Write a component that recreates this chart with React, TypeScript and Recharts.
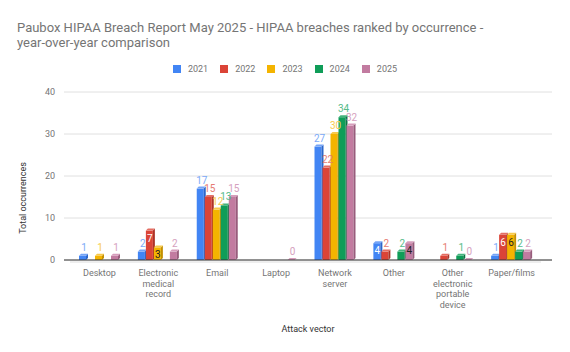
import { BarChart, Bar, XAxis, YAxis, CartesianGrid, LabelList, Label, ReferenceArea } from "recharts";

document.body.style.margin = "0";

const categories = [
  "Desktop",
  "Electronic medical record",
  "Email",
  "Laptop",
  "Network server",
  "Other",
  "Other electronic portable device",
  "Paper/films",
];

const tickLines = [
  ["Desktop"],
  ["Electronic", "medical", "record"],
  ["Email"],
  ["Laptop"],
  ["Network", "server"],
  ["Other"],
  ["Other", "electronic", "portable", "device"],
  ["Paper/films"],
];

const years = ["2021", "2022", "2023", "2024", "2025"];

const values2021 = [1, 2, 17, null, 27, 4, null, 1];
const values2022 = [null, 7, 15, null, 22, 2, 1, 6];
const values2023 = [1, 3, 12, null, 30, null, null, 6];
const values2024 = [null, null, 13, null, 34, 2, 1, 2];
const values2025 = [1, 2, 15, 0, 32, 4, 0, 2];

const yTicks = [0, 10, 20, 30, 40];

const COLORS = ["#4285F4", "#DB4437", "#F4B400", "#0F9D58", "#C27BA0"];
const SIDE = ["#2C66C9", "#AD3327", "#C48F00", "#0A7542", "#985C7C"];
const TOP = ["#74A4F7", "#E46E63", "#F7C94A", "#45B37D", "#D69CBB"];
const LABEL = ["#7BAAF7", "#E67C73", "#F7CB4D", "#57BB8A", "#D5A1BE"];
// text colour when the label sits inside the bar
const INSIDE = ["#ffffff", "#ffffff", "#222222", "#ffffff", "#222222"];

const series = [values2021, values2022, values2023, values2024, values2025];

const data = categories.map((name, i) => {
  const row: Record<string, any> = { name };
  years.forEach((yr, s) => {
    row["y" + yr] = series[s][i];
  });
  return row;
});

const DEPTH = 2;

function make3dBar(s: number) {
  return (props: any) => {
    const { x, y, width, height } = props;
    if (x == null || y == null) return <g />;
    const fw = width - 1;
    const h = Math.max(height, 0);
    return (
      <g>
        <rect x={x} y={y} width={fw} height={h} fill={COLORS[s]} />
        <polygon
          points={`${x + fw},${y} ${x + fw + DEPTH},${y - DEPTH} ${x + fw + DEPTH},${y + h - DEPTH} ${x + fw},${y + h}`}
          fill={SIDE[s]}
        />
        <polygon
          points={`${x},${y} ${x + DEPTH},${y - DEPTH} ${x + fw + DEPTH},${y - DEPTH} ${x + fw},${y}`}
          fill={TOP[s]}
        />
      </g>
    );
  };
}

function makeLabel(s: number) {
  return (props: any) => {
    const { x, y, width, value } = props;
    if (value == null) return null;
    const cx = x + (width - 1) / 2 + 0.5;
    // single-digit bars tall enough get their label inside, like Sheets does
    if (value >= 3 && value <= 9) {
      return (
        <text x={cx} y={y + 11} textAnchor="middle" fontSize={10} fill={INSIDE[s]}>
          {value}
        </text>
      );
    }
    return (
      <text x={cx + 1} y={y - DEPTH - 3} textAnchor="middle" fontSize={10} fill={LABEL[s]}>
        {value}
      </text>
    );
  };
}

function CategoryTick(props: any) {
  const { x, y, index } = props;
  const lines = tickLines[index] || [];
  return (
    <text x={x} y={y} textAnchor="middle" fontSize={9} fill="#757575">
      {lines.map((l, i) => (
        <tspan key={i} x={x} dy={i === 0 ? 12 : 10.7}>
          {l}
        </tspan>
      ))}
    </text>
  );
}

export default function App() {
  return (
    <div
      style={{
        position: "relative",
        width: 570,
        height: 352,
        background: "#fff",
        fontFamily: "Roboto, sans-serif",
      }}
    >
      <div
        style={{
          position: "absolute",
          left: 17,
          top: 20,
          fontSize: 13,
          lineHeight: "15px",
          color: "#757575",
          whiteSpace: "nowrap",
        }}
      >
        <div>Paubox HIPAA Breach Report May 2025 - HIPAA breaches ranked by occurrence -</div>
        <div>year-over-year comparison</div>
      </div>
      <div
        style={{
          position: "absolute",
          left: 0,
          top: 64,
          width: 570,
          height: 10,
          display: "flex",
          justifyContent: "center",
          gap: 12,
          fontSize: 9,
          color: "#757575",
        }}
      >
        {years.map((yr, s) => (
          <div key={yr} style={{ display: "flex", alignItems: "center", height: 10 }}>
            <span
              style={{ width: 8, height: 8, background: COLORS[s], display: "inline-block", marginRight: 7 }}
            />
            <span>{yr}</span>
          </div>
        ))}
      </div>
      <BarChart
        width={570}
        height={352}
        data={data}
        margin={{ top: 92, right: 18, left: 0, bottom: 0 }}
        barGap={0}
        barSize={8}
        style={{ fontFamily: "Roboto, sans-serif" }}
      >
        <CartesianGrid vertical={false} stroke="#e0e0e0" />
        <ReferenceArea y1={-0.7} y2={0} ifOverflow="visible" fill="#eeeeee" fillOpacity={1} stroke="none" />
        <XAxis
          dataKey="name"
          height={92}
          padding={{ left: 6, right: 11 }}
          tickLine={false}
          tickSize={0}
          tickMargin={4}
          axisLine={{ stroke: "#333333" }}
          tick={<CategoryTick />}
          interval={0}
        >
          <Label value="Attack vector" position="insideBottom" offset={20} fontSize={9} fill="#333333" />
        </XAxis>
        <YAxis
          width={64}
          domain={[0, 40]}
          ticks={yTicks}
          tickLine={false}
          tickSize={0}
          tickMargin={9}
          axisLine={false}
          tick={{ fontSize: 9, fill: "#757575" }}
        >
          <Label
            content={() => (
              <text
                x={26}
                y={198}
                transform="rotate(-90 26 198)"
                textAnchor="middle"
                fontSize={9}
                fill="#333333"
              >
                Total occurrences
              </text>
            )}
          />
        </YAxis>
        {years.map((yr, s) => (
          <Bar
            key={yr}
            dataKey={"y" + yr}
            name={yr}
            fill={COLORS[s]}
            isAnimationActive={false}
            shape={make3dBar(s)}
          >
            <LabelList dataKey={"y" + yr} content={makeLabel(s)} />
          </Bar>
        ))}
      </BarChart>
    </div>
  );
}
